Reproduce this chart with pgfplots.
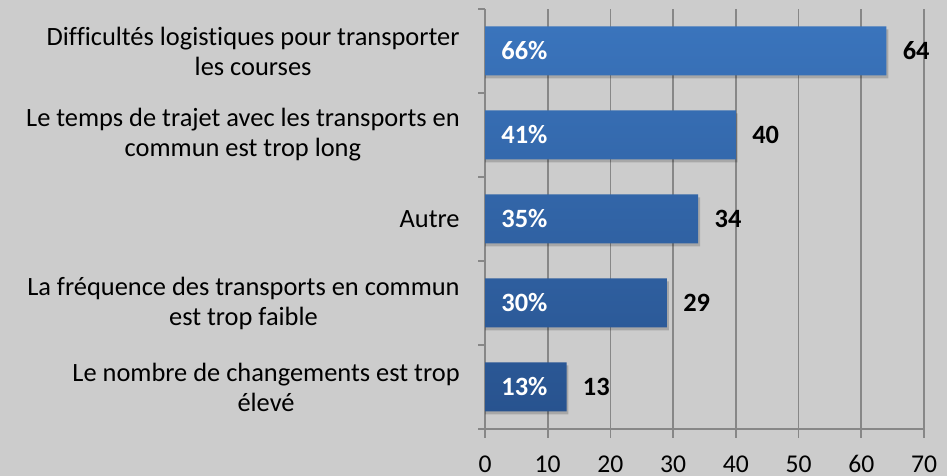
\documentclass[border=0pt]{standalone}
\usepackage{pgfplots}
\pgfplotsset{compat=1.18}
\usepackage{fontspec}
\setmainfont[Ligatures=NoCommon]{Carlito}
\definecolor{bg}{HTML}{CCCCCC}
\definecolor{gridc}{HTML}{878787}
\definecolor{bartop}{HTML}{3A74BC}
\definecolor{barbot}{HTML}{28538F}
\begin{document}
\begin{tikzpicture}
\fill[bg] (0,0) rectangle (473.5pt,238pt);
\begin{axis}[
  at={(242.5pt,23.5pt)}, anchor=south west,
  scale only axis, width=219.5pt, height=210pt,
  xmin=0, xmax=70, ymin=-0.5, ymax=4.5,
  axis lines*=left,
  axis line style={gridc, line width=0.9pt},
  xtick={0,10,...,70},
  xmajorgrids, major grid style={gridc, line width=0.9pt},
  ytick={0,1,2,3,4},
  yticklabels={{Le nombre de changements est trop\\élevé},
               {La fréquence des transports en commun\\est trop faible},
               {Autre},
               {Le temps de trajet avec les transports en\\commun est trop long},
               {Difficultés logistiques pour transporter\\les courses}},
  minor ytick={-0.5,0.5,...,4.5},
  tick align=outside,
  major tick length=4.5pt, minor tick length=3.5pt,
  tick style={gridc, line width=0.9pt},
  every major y tick/.append style={draw=none},
  yticklabel style={align=center, anchor=east, font=\fontsize{13.2}{15}\selectfont, inner sep=0pt, xshift=-8pt},
  xticklabel style={anchor=base, inner sep=0pt, font=\fontsize{12.8}{15}\selectfont, yshift=-17pt},
  /pgf/number format/assume math mode=true,
  clip=false,
]
\addplot[xbar, bar width=24.5pt, bar shift=-1.5pt, draw=none, fill=black, fill opacity=0.18]
  coordinates {(13.3,0) (29.3,1) (34.3,2) (40.3,3) (64.3,4)};
\addplot[xbar, bar width=24.5pt, draw=none, top color=bartop, bottom color=barbot,
  nodes near coords,
  every node near coord/.append style={anchor=west, inner sep=0pt, xshift=8pt, font=\fontsize{13.2}{15}\selectfont\bfseries, black, fill opacity=1, text opacity=1}]
  coordinates {(13,0) (29,1) (34,2) (40,3) (64,4)};
\addplot[draw=none, nodes near coords, point meta=explicit symbolic,
  every node near coord/.append style={anchor=west, inner sep=0pt, xshift=8pt, font=\fontsize{13.2}{15}\selectfont\bfseries, white}]
  coordinates {(0,0) [13\%] (0,1) [30\%] (0,2) [35\%] (0,3) [41\%] (0,4) [66\%]};
\end{axis}
\pgfresetboundingbox
\useasboundingbox (0,0) rectangle (473.5pt,238pt);
\end{tikzpicture}
\end{document}
